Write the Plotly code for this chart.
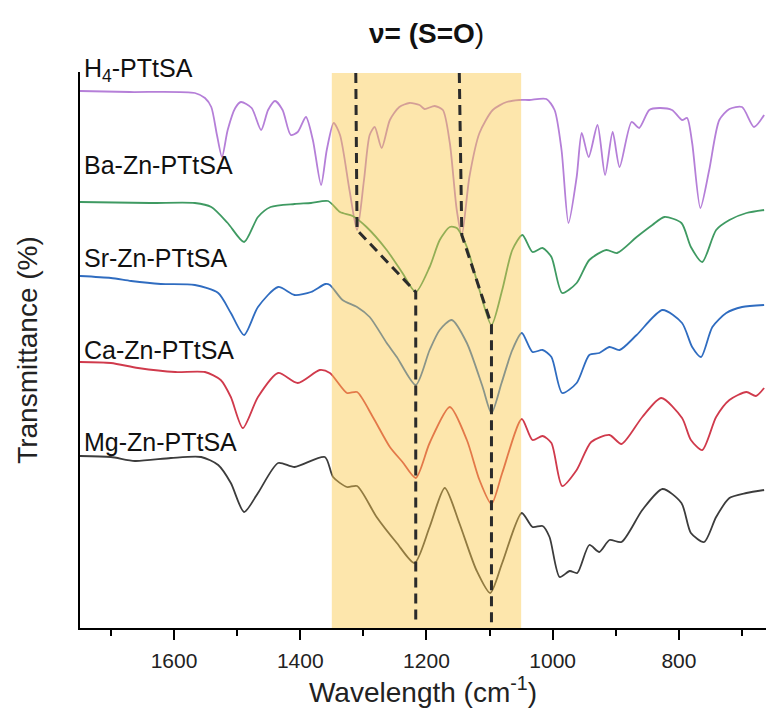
import plotly.graph_objects as go

# ---------------- data (wavenumber cm-1, offset transmittance a.u.) ----------------
h4_x = [1749, 1670, 1567, 1551, 1541, 1532, 1524, 1515, 1503, 1494, 1477, 1462, 1451, 1440, 1428, 1415, 1404,
        1391, 1380, 1367, 1358, 1347, 1337, 1322, 1310, 1299, 1290, 1282, 1271, 1258, 1243, 1227, 1211, 1203,
        1187, 1174, 1163, 1152, 1144, 1132, 1116, 1095, 1073, 1053, 1037, 1010, 997, 986, 975, 962, 954, 943,
        929, 917, 905, 894, 875, 863, 847, 831, 811, 795, 787, 779, 766, 752, 736, 720, 700, 681, 665]
h4_y = [537, 536, 535, 530, 521, 493, 471, 498, 520, 526, 520, 498, 518, 527, 518, 493, 496,
        511, 488, 443, 478, 505, 493, 438, 398, 448, 493, 501, 480, 508, 521, 525, 523, 519,
        522, 518, 485, 418, 393, 451, 495, 518, 526, 528, 528, 529, 518, 478, 405, 451, 495, 471,
        503, 453, 496, 461, 506, 500, 518, 520, 518, 508, 510, 485, 420, 458, 508, 519, 521, 501, 513]

ba_x = [1749, 1638, 1567, 1541, 1515, 1489, 1467, 1447, 1409, 1383, 1356, 1337, 1317, 1295, 1263, 1238, 1217,
        1195, 1179, 1163, 1152, 1136, 1116, 1097, 1080, 1064, 1048, 1032, 1016, 1002, 985, 962, 942, 915,
        898, 867, 842, 823, 796, 781, 763, 741, 720, 693, 665]
ba_y = [426, 425, 425, 421, 405, 386, 411, 421, 424, 425, 427, 416, 412, 401, 378, 355, 336,
        361, 388, 401, 400, 381, 338, 303, 338, 378, 393, 376, 380, 371, 335, 345, 368, 378,
        375, 391, 403, 411, 405, 381, 366, 398, 408, 415, 418]

sr_x = [1749, 1700, 1668, 1621, 1567, 1530, 1510, 1489, 1467, 1435, 1409, 1383, 1360, 1353, 1333, 1310, 1290,
        1263, 1247, 1217, 1195, 1179, 1160, 1136, 1111, 1097, 1081, 1064, 1049, 1032, 1016, 1002, 985, 962,
        942, 926, 910, 894, 867, 826, 795, 779, 765, 747, 725, 700, 665]
sr_y = [352, 350, 347, 344, 343, 335, 315, 293, 321, 341, 333, 336, 344, 343, 328, 321, 311,
        285, 271, 243, 278, 298, 308, 285, 241, 215, 245, 278, 295, 276, 278, 271, 235, 245,
        273, 275, 281, 278, 293, 318, 305, 281, 271, 301, 315, 321, 323]

ca_x = [1749, 1700, 1657, 1598, 1551, 1526, 1510, 1491, 1467, 1435, 1404, 1369, 1353, 1326, 1310, 1285, 1258,
        1238, 1217, 1195, 1163, 1136, 1116, 1097, 1080, 1049, 1032, 1016, 1002, 985, 962, 939, 910, 891,
        858, 828, 795, 781, 763, 741, 720, 693, 678, 665]
ca_y = [266, 265, 260, 256, 256, 248, 231, 200, 231, 255, 245, 258, 255, 235, 236, 211, 181,
        166, 150, 185, 221, 188, 148, 124, 155, 209, 188, 192, 185, 142, 158, 186, 193, 184,
        211, 230, 210, 188, 178, 211, 228, 236, 232, 240]

mg_x = [1749, 1700, 1662, 1605, 1557, 1530, 1510, 1489, 1467, 1435, 1409, 1361, 1348, 1326, 1310, 1279, 1247,
        1219, 1195, 1171, 1148, 1121, 1099, 1080, 1049, 1032, 1016, 1005, 989, 973, 961, 942, 926, 910,
        891, 858, 826, 796, 781, 760, 741, 720, 693, 665]
mg_y = [172, 171, 167, 170, 171, 163, 145, 116, 135, 165, 161, 171, 151, 141, 142, 111, 85,
        65, 101, 140, 105, 58, 35, 65, 115, 101, 102, 91, 51, 57, 55, 83, 76, 88,
        86, 118, 139, 125, 95, 86, 111, 130, 135, 138]

series_names = ["H<sub>4</sub>-PTtSA", "Ba-Zn-PTtSA", "Sr-Zn-PTtSA", "Ca-Zn-PTtSA", "Mg-Zn-PTtSA"]
series_colors = ["#b57fd8", "#3f9a62", "#2f6cc0", "#d03a4c", "#3c3c3c"]
label_y = [558, 463, 370, 278, 186]
label_x = 1746

# shaded S=O band and dashed guide lines
band_x = [1350, 1050]
band_top = 555
guide1_x = [1312, 1310, 1217, 1217]
guide1_y = [555, 398, 336, 3]
guide2_x = [1148, 1144, 1097, 1097]
guide2_y = [555, 393, 303, 3]

x_range = [1749, 662]
y_range = [0, 556]

FONT = "Liberation Sans, Arial, sans-serif"

fig = go.Figure()
all_x = [h4_x, ba_x, sr_x, ca_x, mg_x]
all_y = [h4_y, ba_y, sr_y, ca_y, mg_y]
for xs, ys, name, col in zip(all_x, all_y, series_names, series_colors):
    fig.add_trace(go.Scatter(x=xs, y=ys, mode="lines", name=name,
                             line=dict(color=col, width=1.8, shape="spline", smoothing=0.7),
                             showlegend=False, hoverinfo="skip"))

shapes = [dict(type="rect", xref="x", yref="y", x0=band_x[0], x1=band_x[1], y0=y_range[0], y1=band_top,
               fillcolor="rgba(250,200,70,0.45)", line=dict(width=0), layer="above")]


def path_of(xs, ys):
    return "M " + " L ".join(f"{a},{b}" for a, b in zip(xs, ys))


for gx, gy in [(guide1_x, guide1_y), (guide2_x, guide2_y)]:
    shapes.append(dict(type="path", xref="x", yref="y", path=path_of(gx, gy),
                       line=dict(color="#2b2b2b", width=3, dash="10px,6px"), layer="above"))

annotations = []
for name, ly in zip(series_names, label_y):
    # labels placed in paper coordinates so the topmost one may sit just above the plot area
    annotations.append(dict(x=label_x, y=(ly - y_range[0]) / (y_range[1] - y_range[0]), xref="x", yref="paper",
                            text=name, showarrow=False, xanchor="left", yanchor="middle",
                            font=dict(family=FONT, size=25, color="#111111")))
annotations.append(dict(x=1200, y=1.07, xref="x", yref="paper", text="<b>ν= (S=O</b>)", showarrow=False,
                        xanchor="center", yanchor="middle", font=dict(family=FONT, size=28, color="#111111")))

fig.update_layout(
    width=766, height=720,
    margin=dict(l=80, r=0, t=72, b=92, autoexpand=False),
    paper_bgcolor="white", plot_bgcolor="white",
    shapes=shapes, annotations=annotations,
    font=dict(family=FONT, color="#222222"),
    xaxis=dict(range=x_range, showline=True, linecolor="black", linewidth=2, mirror=False, automargin=False,
               ticks="outside", ticklen=10, tickwidth=2, tickcolor="black",
               tick0=0, dtick=200, showgrid=False, zeroline=False,
               minor=dict(dtick=100, ticks="outside", ticklen=6, tickwidth=2, tickcolor="black", showgrid=False),
               tickfont=dict(family=FONT, size=21, color="#222222"), ticklabelstandoff=3,
               title=dict(text="Wavelength (cm<sup>-1</sup>)", font=dict(family=FONT, size=28, color="#222222"),
                          standoff=6)),
    yaxis=dict(range=y_range, showline=True, linecolor="black", linewidth=2, mirror=False, automargin=False,
               showticklabels=False, ticks="", showgrid=False, zeroline=False,
               title=dict(text="Transmittance (%)", font=dict(family=FONT, size=28, color="#222222"),
                          standoff=32)),
)

fig.write_html("out.html", config={"displayModeBar": False},
               post_script="document.body.style.margin='0px';document.body.style.overflow='hidden';")
